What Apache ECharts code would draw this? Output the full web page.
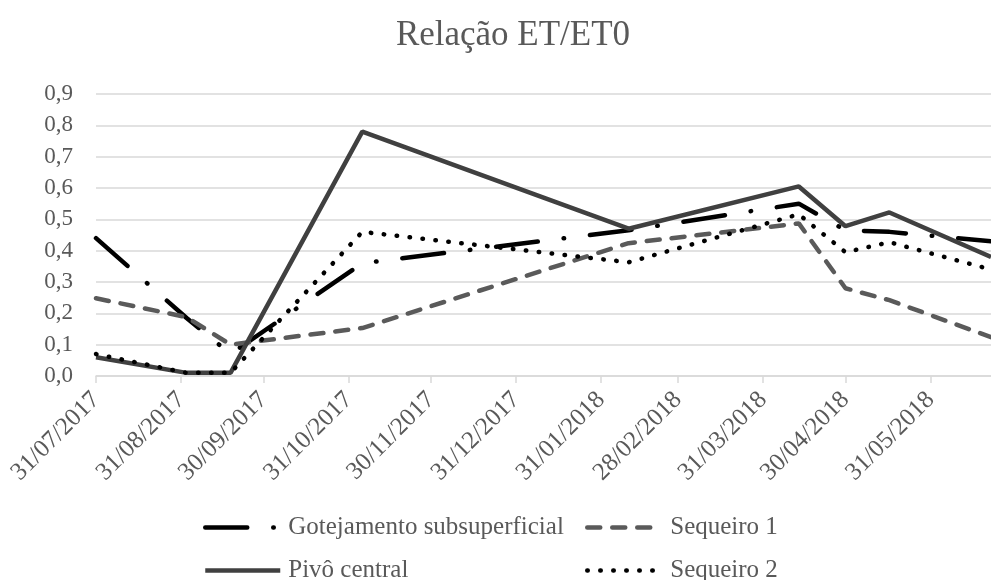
<!DOCTYPE html>
<html>
<head>
<meta charset="utf-8">
<script src="https://cdn.jsdelivr.net/npm/echarts@6/dist/echarts.min.js"></script>
<style>
    html, body { margin: 0; padding: 0; background: #fff; }
    #chart { width: 991px; height: 580px; }
</style>
</head>
<body>
<div id="chart"></div>
<script>
const pointDates = ['31/07/2017', '02/09/2017', '18/09/2017', '05/11/2017', '10/02/2018', '13/04/2018', '30/04/2018', '16/05/2018', '22/06/2018'];
const gotejamento = [0.44, 0.185, 0.07, 0.36, 0.465, 0.55, 0.465, 0.46, 0.43];
const sequeiro1 = [0.248, 0.188, 0.1, 0.153, 0.424, 0.487, 0.28, 0.242, 0.124];
const pivo = [0.06, 0.01, 0.01, 0.78, 0.47, 0.605, 0.478, 0.522, 0.38];
const sequeiro2 = [0.07, 0.01, 0.01, 0.46, 0.363, 0.516, 0.395, 0.427, 0.34];
const tickLabels = ['31/07/2017', '31/08/2017', '30/09/2017', '31/10/2017', '30/11/2017', '31/12/2017', '31/01/2018', '28/02/2018', '31/03/2018', '30/04/2018', '31/05/2018'];
const axisEnd = '22/06/2018';

const font = 'Liberation Serif';
const grey = '#595959';

// dates kept as dd/mm/yyyy, x axis is a plain value axis in ms
const toTime = (s) => {
    const p = s.split('/');
    return new Date(+p[2], +p[1] - 1, +p[0]).getTime();
};
const pad = (n) => (n < 10 ? '0' : '') + n;
const fmtDate = (v) => {
    const d = new Date(v);
    return pad(d.getDate()) + '/' + pad(d.getMonth() + 1) + '/' + d.getFullYear();
};
const pairs = (values) => pointDates.map((d, i) => [toTime(d), values[i]]);

const tickTimes = tickLabels.map(toTime);

const chart = echarts.init(document.getElementById('chart'));

const legendBox = (name, left, top, width) => ({
    data: [name],
    left: left,
    top: top,
    itemWidth: width,
    itemHeight: 14,
    padding: 0,
    selectedMode: false,
    itemStyle: { opacity: 0 },
    lineStyle: { width: 4.5 },
    textStyle: { fontFamily: font, fontSize: 25, color: grey, padding: [0, 0, 0, 3] }
});

chart.setOption({
    animation: false,
    title: {
        text: 'Relação ET/ET0',
        left: 508,
        textAlign: 'center',
        top: 13,
        textStyle: { fontFamily: font, fontSize: 35, fontWeight: 'normal', color: grey }
    },
    legend: [
        legendBox('Gotejamento subsuperficial', 203, 515, 75),
        legendBox('Sequeiro 1', 585, 515, 75),
        legendBox('Pivô central', 203, 558, 75),
        legendBox('Sequeiro 2', 585, 558, 75)
    ],
    grid: { left: 96, right: 0, top: 94, bottom: 204 },
    xAxis: {
        type: 'value',
        min: toTime(pointDates[0]),
        max: toTime(axisEnd),
        axisLine: { lineStyle: { color: '#d9d9d9', width: 1.5 } },
        axisTick: { show: true, customValues: tickTimes, length: 7, lineStyle: { color: '#d9d9d9', width: 1.5 } },
        axisLabel: {
            customValues: tickTimes,
            rotate: 45,
            margin: 20,
            fontFamily: font,
            fontSize: 25,
            color: grey,
            formatter: (v) => fmtDate(v)
        },
        splitLine: { show: false }
    },
    yAxis: {
        type: 'value',
        min: 0,
        max: 0.9,
        interval: 0.1,
        axisLine: { show: false },
        axisTick: { show: false },
        axisLabel: {
            margin: 23,
            fontFamily: font,
            fontSize: 23,
            color: grey,
            formatter: (v) => v.toFixed(1).replace('.', ',')
        },
        splitLine: { lineStyle: { color: '#d9d9d9', width: 1.5 } }
    },
    series: [
        {
            name: 'Gotejamento subsuperficial',
            type: 'line',
            symbol: 'none',
            data: pairs(gotejamento),
            lineStyle: { color: '#000', width: 4.5, type: [42, 26, 0.5, 26], cap: 'round' },
            itemStyle: { color: '#000' }
        },
        {
            name: 'Sequeiro 1',
            type: 'line',
            symbol: 'none',
            data: pairs(sequeiro1),
            lineStyle: { color: '#5a5a5a', width: 4.5, type: [13, 12], cap: 'round' },
            itemStyle: { color: '#5a5a5a' }
        },
        {
            name: 'Pivô central',
            type: 'line',
            symbol: 'none',
            data: pairs(pivo),
            lineStyle: { color: '#404040', width: 4.5 },
            itemStyle: { color: '#404040' }
        },
        {
            name: 'Sequeiro 2',
            type: 'line',
            symbol: 'none',
            data: pairs(sequeiro2),
            lineStyle: { color: '#000', width: 4.5, type: [0.5, 12.5], cap: 'round' },
            itemStyle: { color: '#000' }
        }
    ]
});
</script>
</body>
</html>
